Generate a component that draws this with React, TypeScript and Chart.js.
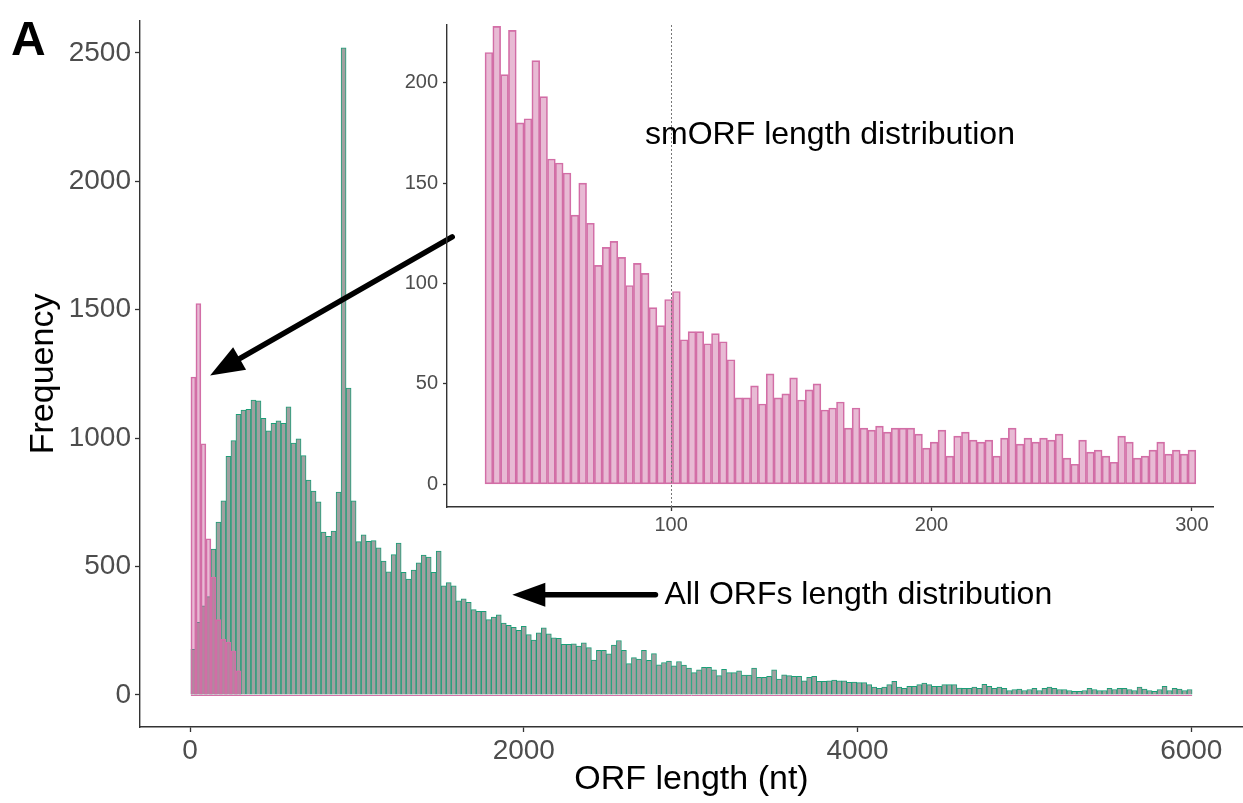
import React, { useEffect, useRef } from "react";
import { Chart, registerables } from "chart.js";

Chart.register(...registerables);

const FONT = "'Liberation Sans', Arial, Helvetica, sans-serif";

// ---------------- DATA ----------------
// Main histogram: bins of 30 nt, first bin centred at 20 nt
const mainBinWidth = 30;
const mainFirstBinCenter = 20;
const allOrfCounts = [
  177, 283, 347, 383, 568, 673, 756, 929, 990, 1093,
  1109, 1112, 1148, 1145, 1077, 1028, 1058, 1067, 1058, 1122,
  981, 997, 932, 837, 794, 752, 634, 617, 638, 790,
  2520, 1195, 756, 597, 623, 598, 601, 573, 521, 479,
  546, 591, 477, 451, 486, 514, 544, 537, 477, 560,
  425, 437, 425, 366, 374, 360, 332, 325, 325, 293,
  303, 312, 280, 271, 263, 251, 267, 235, 213, 242,
  261, 238, 222, 220, 197, 197, 199, 190, 203, 184,
  136, 174, 174, 160, 194, 212, 174, 122, 145, 139,
  174, 135, 161, 117, 126, 132, 113, 130, 116, 104,
  87, 98, 107, 107, 98, 75, 100, 87, 87, 94,
  77, 77, 104, 68, 68, 72, 98, 62, 78, 75,
  72, 72, 55, 68, 72, 53, 53, 55, 58, 55,
  55, 49, 50, 48, 48, 40, 30, 26, 30, 40,
  53, 30, 26, 33, 33, 40, 46, 40, 33, 33,
  40, 40, 40, 27, 26, 26, 30, 26, 41, 33,
  26, 30, 26, 17, 21, 23, 17, 21, 26, 17,
  26, 30, 26, 21, 21, 17, 14, 14, 17, 26,
  21, 17, 17, 26, 21, 26, 26, 21, 17, 30,
  23, 17, 14, 21, 33, 17, 26, 23, 17, 21,
];
const smorfMainCounts = [1238, 1524, 978, 608, 458, 293, 216, 205, 171, 94];

// Inset histogram: bins of 3 nt, first bin centred at 30 nt
const insetBinWidth = 3;
const insetFirstBinCenter = 30;
const smorfInsetCounts = [
  215, 228, 204, 226, 180, 182, 211, 193, 162, 160,
  155, 134, 150, 130, 109, 118, 121, 113, 99, 110,
  105, 88, 79, 92, 96, 72, 76, 76, 70, 75,
  71, 62, 43, 43, 49, 40, 55, 43, 45, 53,
  42, 47, 50, 37, 38, 41, 28, 38, 28, 27,
  29, 26, 28, 28, 28, 25, 18, 21, 27, 14,
  24, 26, 22, 21, 22, 14, 23, 28, 20, 23,
  21, 23, 22, 25, 13, 10, 22, 16, 17, 14,
  11, 24, 21, 13, 14, 17, 21, 15, 17, 15,
  17,
];

const mainXTicks = [0, 2000, 4000, 6000];
const mainYTicks = [0, 500, 1000, 1500, 2000, 2500];
const insetXTicks = [100, 200, 300];
const insetYTicks = [0, 50, 100, 150, 200];
const insetMarker = 100;

// ---------------- STYLES ----------------
const GREEN_BORDER = "#1b9e77";
const GREEN_FILL = "rgb(160,160,160)";
const PINK_BORDER = "rgb(212,112,168)";
const PINK_FILL = "rgba(204,102,160,0.45)";
const AXIS = "#333333";
const TICK_TEXT = "#4d4d4d";

function toPoints(counts: number[], first: number, width: number) {
  return counts.map((v, i) => ({ x: first + i * width, y: v }));
}

function drawArrow(ctx: CanvasRenderingContext2D, x0: number, y0: number, x1: number, y1: number, headLen: number, headHalf: number, lw: number) {
  const ang = Math.atan2(y1 - y0, x1 - x0);
  const bx = x1 - headLen * Math.cos(ang);
  const by = y1 - headLen * Math.sin(ang);
  ctx.save();
  ctx.strokeStyle = "#000";
  ctx.fillStyle = "#000";
  ctx.lineWidth = lw;
  ctx.lineCap = "round";
  ctx.beginPath();
  ctx.moveTo(x0, y0);
  ctx.lineTo(bx + 2 * Math.cos(ang), by + 2 * Math.sin(ang));
  ctx.stroke();
  ctx.beginPath();
  ctx.moveTo(x1, y1);
  ctx.lineTo(bx + headHalf * Math.sin(ang), by - headHalf * Math.cos(ang));
  ctx.lineTo(bx - headHalf * Math.sin(ang), by + headHalf * Math.cos(ang));
  ctx.closePath();
  ctx.fill();
  ctx.restore();
}

const mainAnnotations = {
  id: "mainAnnotations",
  afterDatasetsDraw(chart: any) {
    const { ctx, scales } = chart;
    const xs = scales.x;
    const ys = scales.y;
    // pink baseline of empty smORF bins
    ctx.save();
    ctx.strokeStyle = PINK_BORDER;
    ctx.lineWidth = 1;
    ctx.beginPath();
    const y0 = Math.round(ys.getPixelForValue(0)) + 0.5;
    ctx.moveTo(xs.getPixelForValue(mainFirstBinCenter - mainBinWidth / 2), y0);
    ctx.lineTo(xs.getPixelForValue(mainFirstBinCenter + (allOrfCounts.length - 0.5) * mainBinWidth), y0);
    ctx.stroke();
    ctx.restore();
  },
  afterDraw(chart: any) {
    const { ctx, scales } = chart;
    const xs = scales.x;
    const ys = scales.y;
    drawArrow(ctx, xs.getPixelForValue(1571), ys.getPixelForValue(1784), xs.getPixelForValue(120), ys.getPixelForValue(1244), 34, 13, 5.5);
    drawArrow(ctx, xs.getPixelForValue(2789), ys.getPixelForValue(390), xs.getPixelForValue(1931), ys.getPixelForValue(390), 33, 12, 5.5);
    ctx.save();
    ctx.fillStyle = "#000";
    ctx.font = `32px ${FONT}`;
    ctx.textAlign = "left";
    ctx.textBaseline = "middle";
    ctx.fillText("All ORFs length distribution", xs.getPixelForValue(2843), ys.getPixelForValue(388));
    ctx.font = `bold 48px ${FONT}`;
    ctx.textBaseline = "alphabetic";
    ctx.fillText("A", 11, 55);
    ctx.restore();
  },
};

const insetAnnotations = {
  id: "insetAnnotations",
  afterDatasetsDraw(chart: any) {
    const { ctx, scales, chartArea } = chart;
    const x = Math.round(scales.x.getPixelForValue(insetMarker)) + 0.5;
    ctx.save();
    ctx.strokeStyle = "#777";
    ctx.lineWidth = 1;
    ctx.setLineDash([2, 2]);
    ctx.beginPath();
    ctx.moveTo(x, chartArea.top);
    ctx.lineTo(x, chartArea.bottom);
    ctx.stroke();
    ctx.restore();
  },
  afterDraw(chart: any) {
    const { ctx, scales } = chart;
    ctx.save();
    ctx.fillStyle = "#000";
    ctx.font = `32px ${FONT}`;
    ctx.textAlign = "center";
    ctx.textBaseline = "middle";
    ctx.fillText("smORF length distribution", scales.x.getPixelForValue(161), scales.y.getPixelForValue(174));
    ctx.restore();
  },
};

function axisCommon(tickLen: number, fontSize: number, padding: number) {
  return {
    offset: false,
    grid: {
      display: true,
      drawOnChartArea: false,
      drawTicks: true,
      tickLength: tickLen,
      tickWidth: 1.3,
      tickColor: AXIS,
      offset: false,
    },
    border: { display: true, color: AXIS, width: 1.4 },
    ticks: {
      color: TICK_TEXT,
      font: { family: FONT, size: fontSize },
      padding,
      maxRotation: 0,
      minRotation: 0,
      autoSkip: false,
      callback: (v: any) => String(v),
    },
  };
}

export default function App() {
  const mainRef = useRef<HTMLCanvasElement>(null);
  const insetRef = useRef<HTMLCanvasElement>(null);

  useEffect(() => {
    document.body.style.margin = "0";
    const mainChart = new Chart(mainRef.current as HTMLCanvasElement, {
      type: "bar",
      data: {
        datasets: [
          {
            label: "smORFs",
            data: toPoints(smorfMainCounts, mainFirstBinCenter, mainBinWidth),
            backgroundColor: PINK_FILL,
            borderColor: PINK_BORDER,
            borderWidth: 1,
            barPercentage: 1,
            categoryPercentage: 1,
            grouped: false,
            order: 0,
          } as any,
          {
            label: "All ORFs",
            data: toPoints(allOrfCounts, mainFirstBinCenter, mainBinWidth),
            backgroundColor: GREEN_FILL,
            borderColor: GREEN_BORDER,
            borderWidth: 1,
            barPercentage: 1,
            categoryPercentage: 1,
            grouped: false,
            order: 1,
          } as any,
        ],
      },
      options: {
        responsive: false,
        animation: false,
        devicePixelRatio: 1,
        layout: { padding: { left: 0, right: 0, top: 14, bottom: 0 } },
        plugins: { legend: { display: false }, tooltip: { enabled: false } },
        scales: {
          x: {
            type: "linear",
            min: -300,
            max: 6310,
            ...axisCommon(5, 28, 2),
            afterBuildTicks: (s: any) => {
              s.ticks = mainXTicks.map((v) => ({ value: v }));
            },
            afterFit: (s: any) => {
              s.height = 76;
            },
            title: {
              display: true,
              text: "ORF length (nt)",
              color: "#000",
              font: { family: FONT, size: 34 },
              padding: { top: 0, bottom: 3 },
            },
          } as any,
          y: {
            type: "linear",
            min: -125,
            max: 2625,
            ...axisCommon(5, 28, 4),
            afterBuildTicks: (s: any) => {
              s.ticks = mainYTicks.map((v) => ({ value: v }));
            },
            afterFit: (s: any) => {
              s.width = 140;
            },
            title: {
              display: true,
              text: "Frequency",
              color: "#000",
              font: { family: FONT, size: 34 },
              padding: { top: 23, bottom: 0 },
            },
          } as any,
        },
      },
      plugins: [mainAnnotations],
    });

    const insetChart = new Chart(insetRef.current as HTMLCanvasElement, {
      type: "bar",
      data: {
        datasets: [
          {
            label: "smORFs",
            data: toPoints(smorfInsetCounts, insetFirstBinCenter, insetBinWidth),
            backgroundColor: PINK_FILL,
            borderColor: PINK_BORDER,
            borderWidth: 1,
            borderSkipped: false,
            barPercentage: 1,
            categoryPercentage: 1,
            grouped: false,
          } as any,
        ],
      },
      options: {
        responsive: false,
        animation: false,
        devicePixelRatio: 1,
        layout: { padding: { left: 0, right: 30, top: 25, bottom: 0 } },
        plugins: { legend: { display: false }, tooltip: { enabled: false } },
        scales: {
          x: {
            type: "linear",
            min: 13.9,
            max: 308.1,
            ...axisCommon(4, 20, 2),
            afterBuildTicks: (s: any) => {
              s.ticks = insetXTicks.map((v) => ({ value: v }));
            },
            afterFit: (s: any) => {
              s.height = 53;
            },
          } as any,
          y: {
            type: "linear",
            min: -11.3,
            max: 228.7,
            ...axisCommon(4, 20, 5),
            afterBuildTicks: (s: any) => {
              s.ticks = insetYTicks.map((v) => ({ value: v }));
            },
            afterFit: (s: any) => {
              s.width = 67;
            },
          } as any,
        },
      },
      plugins: [insetAnnotations],
    });

    return () => {
      mainChart.destroy();
      insetChart.destroy();
    };
  }, []);

  return (
    <div style={{ position: "fixed", left: 0, top: 0, width: 1243, height: 803, background: "#fff" }}>
      <canvas ref={mainRef} width={1243} height={803} style={{ position: "absolute", left: 0, top: 0 }} />
      <canvas ref={insetRef} width={863} height={560} style={{ position: "absolute", left: 380, top: 0 }} />
    </div>
  );
}
